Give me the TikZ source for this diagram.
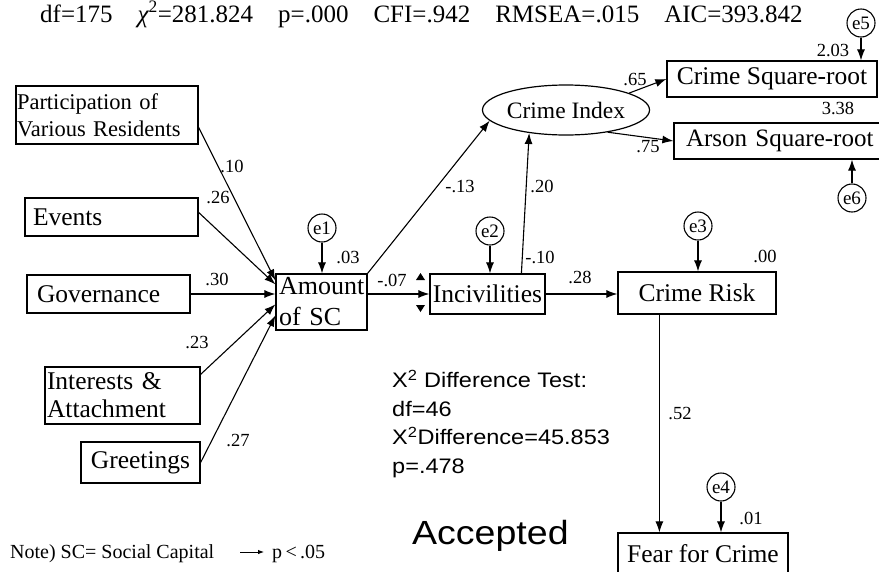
\documentclass[tikz,border=0pt]{standalone}
\usepackage{fontspec}
\setmainfont{Liberation Serif}
\newfontfamily\sanswide[FakeStretch=1.12]{Liberation Sans}
\usetikzlibrary{arrows.meta,shapes.geometric,calc}
\begin{document}
\begin{tikzpicture}[x=1pt,y=-1pt,
  box/.style={draw,line width=1.2pt,inner sep=0pt,font=\fontsize{25.5}{28}\selectfont},
  err/.style={draw,circle,line width=1.1pt,minimum size=28pt,inner sep=0pt,font=\fontsize{19}{19}\selectfont},
  arr/.style={line width=1.1pt,-{Latex[length=11pt,width=8pt]}},
  coef/.style={font=\fontsize{18.5}{18.5}\selectfont,inner sep=0pt}]
\useasboundingbox (0,0) rectangle (879,571);
\fill[white] (0,0) rectangle (879,571);

% header
\node[anchor=base west,inner sep=0pt,font=\fontsize{25}{26}\selectfont] (hdr) at (40,22)
  {df=175\hspace{25pt}{\itshape χ}\textsuperscript{2}=281.824\hspace{25pt}p=.000\hspace{25pt}CFI=.942\hspace{25pt}RMSEA=.015\hspace{25pt}AIC=393.842};

% exogenous boxes
\node[box,minimum width=182pt,minimum height=58pt,text width=180pt,inner xsep=1pt,align=left,font=\fontsize{22.5}{27}\selectfont] (part) at (107,115) {Participation of\\Various Residents};
\node[box,minimum width=173pt,minimum height=38pt,text width=157pt,inner xsep=8pt,align=left] (events) at (111.5,217) {Events};
\node[box,minimum width=163pt,minimum height=38pt,text width=143pt,inner xsep=10pt,align=left] (gov) at (108.5,294) {Governance};
\node[box,minimum width=155pt,minimum height=57pt,text width=151pt,inner xsep=2pt,align=left] (inter) at (122.5,395.5) {Interests \&\\Attachment};
\node[box,minimum width=119pt,minimum height=41pt] (greet) at (140.5,462.5) {Greetings};

% endogenous boxes
\node[box,minimum width=91pt,minimum height=56pt,text width=85pt,inner xsep=3pt,align=left,font=\fontsize{26}{31}\selectfont] (amt) at (321.5,302) {Amount\\of SC};
\node[box,minimum width=115pt,minimum height=40pt] (inc) at (487.5,294) {Incivilities};
\node[box,minimum width=158pt,minimum height=42pt] (cr) at (697,293) {Crime Risk};
\node[box,minimum width=170pt,minimum height=42pt] (fear) at (703,554) {Fear for Crime};
\node[draw,ellipse,line width=1.2pt,minimum width=166pt,minimum height=50pt,inner sep=0pt,font=\fontsize{23.5}{24}\selectfont] (ci) at (566,110) {Crime Index};
\node[box,minimum width=210pt,minimum height=36pt] (csr) at (772,79) {Crime Square-root};
\node[box,minimum width=231pt,minimum height=36pt,text width=207pt,inner xsep=12pt,align=left,font=\fontsize{25}{28}\selectfont] (asr) at (789.5,141) {Arson Square-root};

% error terms
\node[err] (e1) at (322,228) {e1};
\node[err] (e2) at (490,231) {e2};
\node[err] (e3) at (698,226) {e3};
\node[err] (e4) at (721,487) {e4};
\node[err] (e5) at (861,23) {e5};
\node[err] (e6) at (852,198) {e6};

% paths into Amount of SC
\draw[arr] ($(part.north east)+(0,42)$) -- ($(amt.north west)+(0,7)$);
\draw[arr] ($(events.north east)+(0,15)$) -- ($(amt.north west)+(0,11)$);
\draw[arr] (gov.east) -- (gov.east -| amt.west);
\draw[arr] ($(inter.north east)+(0,8)$) -- ($(amt.north west)+(0,31)$);
\draw[arr] (greet.east) -- ($(amt.north west)+(0,42)$);

% error arrows
\draw[arr] (e1.south) -- (e1.south |- amt.north);
\draw[arr] (e2.south) -- (e2.south |- inc.north);
\draw[arr] (e3.south) -- (e3.south |- cr.north);
\draw[arr] (e4.south) -- (e4.south |- fear.north);
\draw[arr] (e5.south) -- (e5.south |- csr.north);
\draw[arr] (e6.north) -- (e6.north |- asr.south);

% structural paths
\draw[arr] (amt.east |- inc.west) -- (inc.west);
\draw[arr] (amt.north east) -- (ci.188);
\coordinate (incup) at ($(inc.north west)+(92,0)$);
\draw[arr] (incup) -- (ci.212);
\draw[arr] (inc.east) -- (inc.east -| cr.west);
\coordinate (crdown) at ($(cr.south west)+(42,0)$);
\draw[arr] (crdown) -- (crdown |- fear.north);
\draw[arr] (ci.15) -- (csr.west);
\draw[arr] (ci.-28) -- (asr.west);

% stray arrowheads beside Incivilities
\fill (416,280) -- (425,280) -- (420.5,273) -- cycle;
\fill (416,305) -- (425,305) -- (420.5,312) -- cycle;

% coefficients
\node[coef] at (232,166) {.10};
\node[coef] at (218,198) {.26};
\node[coef] at (217,279) {.30};
\node[coef] at (197,343) {.23};
\node[coef] at (238,441) {.27};
\node[coef] at (348,257) {.03};
\node[coef] at (392,280) {-.07};
\node[coef] at (460,187) {-.13};
\node[coef] at (542,186) {.20};
\node[coef] at (540,257) {-.10};
\node[coef] at (580,277) {.28};
\node[coef] at (765,256) {.00};
\node[coef] at (680,413) {.52};
\node[coef] at (751,518) {.01};
\node[coef] at (833,50) {2.03};
\node[coef] at (838,108) {3.38};
\node[coef] at (635,80) {.65};
\node[coef] at (648,147) {.75};

% chi-square difference test
\node[anchor=north west,inner sep=0pt,align=left,font=\sanswide\fontsize{21}{28.5}\selectfont] (test) at (392,370)
  {X\textsuperscript{2} Difference Test:\\df=46\\X\textsuperscript{2}Difference=45.853\\p=.478};
\node[anchor=base west,inner sep=0pt,font=\sanswide\fontsize{33.5}{34}\selectfont] (acc) at (412,544) {Accepted};

% note and legend
\node[anchor=base west,inner sep=0pt,font=\fontsize{20}{20}\selectfont] (note) at (10,558) {Note) SC= Social Capital};
\coordinate (la) at (240,552);
\coordinate (lb) at (264,552);
\draw[line width=0.9pt,-{Latex[length=6pt,width=4.5pt]}] (la) -- (lb);
\node[anchor=base west,inner sep=0pt,font=\fontsize{20}{20}\selectfont] (leg) at (272,558) {p\,<\,.05};
\end{tikzpicture}
\end{document}
